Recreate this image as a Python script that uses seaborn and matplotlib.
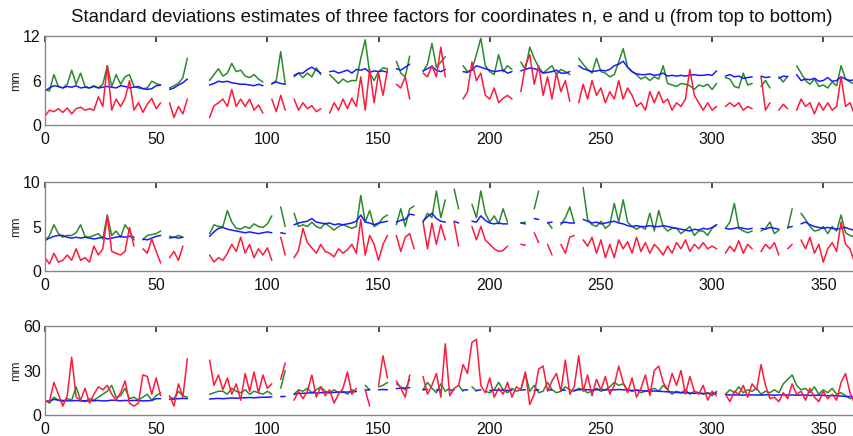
import numpy as np
import pandas as pd
import matplotlib
matplotlib.use("Agg")
import matplotlib.pyplot as plt
import seaborn as sns

N = None
day = list(range(0, 366, 2))

# ---------- n component ----------
n_blue = [4.6, 5.0, 5.3, 5.2, 5.0, 5.2, 5.1, 5.3, 5.0, 5.1,
          5.0, 5.2, 5.0, 5.1, 5.2, 5.1, 5.0, 5.3, 5.2, 5.0,
          5.1, 5.2, 4.9, 4.8, 4.9, 5.3, 5.4, N, 4.8, 5.0,
          5.4, 5.7, 6.2, N, N, N, N, 5.4, 5.6, 5.9,
          5.8, 5.9, 5.7, 5.6, 5.5, 5.5, 5.4, 5.3, 5.5, 5.3,
          N, 5.6, 5.8, 5.6, 5.5, N, 6.7, 7.0, 7.0, 7.5,
          7.8, 7.4, 7.0, N, 7.2, 7.3, 7.0, 7.2, 7.4, 7.0,
          7.5, 7.4, 7.6, 7.1, 7.3, 7.2, 7.3, 7.1, N, 7.6,
          7.4, 7.8, 8.2, N, N, 7.3, 7.6, 7.9, 7.4, 7.2,
          7.5, N, N, N, 7.2, 7.1, 7.4, 8.0, 7.8, 7.6,
          7.4, 7.2, 7.3, 7.4, 7.0, 7.2, N, 7.3, 7.5, 7.7,
          7.6, 7.4, 7.0, 7.1, 7.2, 7.4, 7.0, 7.0, 7.2, N,
          8.0, 7.6, 7.4, 7.2, 7.3, 7.4, 7.3, 7.5, 8.0, 8.2,
          8.6, 7.8, 7.2, 6.9, 6.8, 6.8, 6.9, 6.7, 6.8, 7.0,
          6.6, 6.7, 6.6, 6.7, 6.6, 6.7, 6.8, 6.7, 6.7, 6.8,
          6.7, 7.3, N, 6.6, 6.8, 6.5, 6.6, 6.3, 6.4, 6.5,
          N, 6.6, 6.4, 6.5, N, 6.3, 6.6, 6.5, N, 6.8,
          6.0, 6.2, 6.1, 6.3, 5.9, 6.0, 6.4, 5.9, 6.0, 6.5,
          6.2, 6.0, 6.1]
n_green = [4.8, 4.6, 6.8, 5.2, 5.0, 5.5, 7.4, 5.5, 7.0, 5.2,
           5.0, 5.3, 5.0, 5.5, 8.0, 5.2, 6.8, 5.5, 6.5, 6.8,
           5.2, 5.0, 4.9, 5.0, 5.9, 5.6, 5.4, N, 5.0, 5.3,
           5.6, 6.4, 9.0, N, N, N, N, 6.0, 6.8, 7.6,
           6.6, 7.0, 8.3, 7.2, 7.4, 6.6, 6.4, 6.8, 6.2, 5.8,
           N, 5.5, 6.0, 9.9, 5.6, N, 6.5, 7.0, 6.4, 7.0,
           6.5, 7.7, 6.8, N, 6.8, 6.2, 5.6, 6.2, 5.8, 6.0,
           6.0, 9.0, 11.5, 7.0, 6.0, 7.2, 7.7, 7.6, N, 8.6,
           7.0, 6.5, 9.3, N, N, 7.2, 8.2, 11.0, 7.8, 8.5,
           9.2, N, N, N, 8.0, 7.2, 7.5, 9.5, 11.7, 8.0,
           7.2, 6.8, 9.5, 7.2, 8.0, 7.5, N, 8.5, 7.5, 10.5,
           9.0, 7.8, 7.0, 7.5, 8.0, 6.8, 7.5, 7.2, 6.8, N,
           9.0, 8.2, 7.5, 7.0, 9.0, 7.2, 7.0, 6.5, 6.8, 8.5,
           10.3, 7.8, 7.2, 6.8, 6.2, 6.5, 6.0, 6.5, 6.2, 8.0,
           5.6, 5.4, 5.2, 5.6, 5.5, 5.3, 4.8, 5.4, 5.2, 5.5,
           4.8, 5.6, N, 6.4, 6.2, 5.2, 5.0, 7.0, 5.4, 5.6,
           N, 5.2, 6.0, 5.0, N, 6.5, 5.8, 6.6, N, 8.0,
           7.0, 6.0, 5.5, 6.2, 5.2, 5.4, 5.0, 5.8, 5.3, 8.0,
           6.2, 5.8, 5.5]
n_red = [1.2, 2.0, 1.8, 2.2, 1.7, 2.3, 1.5, 2.2, 2.4, 2.0,
         2.2, 2.0, 3.8, 2.5, 8.0, 2.0, 3.5, 2.5, 3.6, 6.0,
         2.0, 3.0, 1.7, 2.8, 3.6, 2.2, 3.0, N, 3.0, 1.0,
         2.5, 1.5, 3.5, N, N, N, N, 1.0, 2.6, 3.0,
         3.5, 2.5, 4.8, 2.5, 3.5, 2.5, 3.5, 2.0, 2.7, 1.6,
         N, 3.5, 1.8, 4.0, 2.0, N, 3.5, 2.0, 3.0, 2.2,
         2.6, 1.8, 2.2, N, 1.6, 3.0, 2.0, 3.5, 2.2, 3.6,
         2.5, 6.5, 2.0, 7.5, 3.0, 7.0, 4.0, 7.5, N, 5.5,
         5.0, 6.5, 3.5, N, N, 7.0, 6.5, 8.0, 6.5, 10.5,
         6.5, N, N, N, 3.5, 4.5, 8.5, 6.0, 7.0, 4.0,
         3.5, 5.0, 3.0, 3.6, 4.0, 3.5, N, 4.5, 8.0, 9.5,
         5.5, 8.0, 4.0, 6.5, 3.5, 7.0, 4.5, 6.0, 3.2, N,
         3.0, 5.5, 3.5, 6.0, 4.0, 5.0, 3.0, 4.5, 3.5, 6.0,
         3.5, 5.0, 4.0, 2.5, 3.0, 2.0, 4.5, 3.0, 4.5, 3.0,
         3.5, 2.0, 3.0, 2.5, 3.5, 7.5, 4.0, 3.0, 2.0, 3.0,
         2.0, 2.5, N, 2.5, 3.0, 2.5, 3.0, 2.0, 2.5, 2.2,
         N, 6.5, 2.0, 3.0, N, 2.0, 2.8, 2.2, N, 2.0,
         3.5, 2.5, 3.0, 1.5, 3.0, 2.0, 3.0, 2.0, 2.5, 6.5,
         2.5, 3.0, 1.5]

# ---------- e component ----------
e_blue = [3.5, 3.7, 3.9, 4.0, 4.0, 3.8, 3.7, 3.8, 3.7, 3.8,
          3.7, 3.6, 3.7, 3.8, 3.6, 3.7, 3.8, 3.9, 3.8, 3.9,
          3.8, N, 3.6, 3.5, 3.7, 3.9, 4.0, N, 3.7, 3.8,
          3.7, 3.8, N, N, N, N, N, 3.9, 4.4, 4.8,
          4.9, 4.7, 4.6, 4.5, 4.4, 4.3, 4.4, 4.3, 4.2, 4.3,
          4.4, 4.3, N, 4.3, 4.2, N, 5.2, 5.4, 5.5, 5.6,
          5.9, 5.5, 5.4, 5.3, 5.4, 5.2, 5.3, 5.2, 5.3, 5.4,
          5.6, 6.3, 5.5, 5.4, 5.2, 5.4, 5.5, 5.6, N, 5.5,
          5.7, 5.8, 6.4, 6.3, N, 5.6, 6.1, 6.5, 5.9, 5.6,
          5.5, N, 5.6, 5.4, N, N, 5.6, 5.5, 6.2, 5.7,
          5.4, 5.3, 5.4, 5.3, 5.3, N, N, 5.4, 5.3, N,
          5.9, 5.8, N, 5.4, 5.5, N, 5.4, 5.5, 5.4, 5.4,
          N, 5.8, 5.6, 5.4, 5.5, 5.3, 5.4, 5.5, 5.6, 5.4,
          5.3, 5.1, 5.0, 5.1, 5.0, 5.0, 5.1, 5.0, 5.0, 5.1,
          5.0, 4.9, 4.8, 4.7, 4.6, 4.5, 4.7, 4.6, 4.8, 4.7,
          4.9, 5.2, N, 4.8, 4.7, 4.8, 4.9, 4.8, 4.7, 4.8,
          N, 4.8, 4.7, 4.9, 4.8, 4.7, N, 4.9, 5.0, N,
          5.3, 5.5, 5.2, 5.0, 4.9, 4.8, 4.9, 4.8, 4.7, 4.8,
          4.9, 4.7, 4.6]
e_green = [3.3, 4.0, 5.2, 4.2, 3.8, 4.0, 4.0, 4.3, 5.2, 3.9,
           3.8, 4.0, 4.2, 3.6, 6.3, 4.0, 4.5, 3.8, 5.2, 4.5,
           3.5, N, 3.5, 4.0, 4.1, 4.2, 4.5, N, 3.9, 3.8,
           4.0, 3.8, N, N, N, N, N, 4.2, 5.2, 5.0,
           5.0, 6.8, 5.5, 4.8, 4.7, 5.0, 4.8, 5.3, 5.0, 4.9,
           5.3, 6.2, N, 7.2, 5.0, N, 6.5, 5.0, 5.2, 5.0,
           5.5, 5.0, 4.8, 5.4, 5.0, 4.6, 5.0, 5.2, 5.0, 4.8,
           5.0, 8.5, 5.5, 6.8, 5.0, 5.3, 6.0, 6.3, N, 5.2,
           7.0, 5.0, 7.0, 7.3, N, 5.5, 6.5, 6.0, 9.0, 6.0,
           8.0, N, 9.2, 7.0, N, N, 7.5, 6.0, 9.0, 6.5,
           5.5, 6.2, 5.3, 7.0, 5.5, N, N, 5.4, 5.5, N,
           7.0, 9.0, N, 5.5, 4.8, N, 5.2, 6.0, 7.2, 5.4,
           N, 9.4, 5.8, 5.2, 5.0, 5.6, 4.8, 5.2, 7.6, 5.5,
           8.0, 5.5, 5.0, 4.7, 5.0, 4.7, 6.5, 4.5, 6.8, 5.0,
           4.5, 4.8, 4.8, 4.2, 4.6, 5.0, 4.0, 4.5, 4.5, 4.0,
           4.8, 5.2, N, 4.8, 5.5, 7.6, 4.8, 4.5, 4.3, 4.5,
           N, 4.5, 4.8, 5.5, 4.2, 4.6, N, 4.8, 7.0, N,
           6.5, 5.8, 5.0, 4.5, 4.6, 5.0, 4.2, 5.0, 4.5, 6.3,
           4.3, 4.0, 3.8]
e_red = [1.5, 0.8, 2.0, 1.0, 1.2, 1.8, 1.2, 2.5, 1.2, 1.5,
         1.0, 2.8, 1.8, 2.5, 6.2, 2.2, 2.0, 1.8, 2.2, 4.9,
         2.8, N, 2.5, 2.0, 3.6, 2.2, 0.9, N, 1.5, 2.2,
         1.2, 2.8, N, N, N, N, N, 1.8, 1.0, 1.5,
         1.2, 2.0, 3.0, 2.2, 3.8, 2.0, 3.0, 1.5, 2.5, 1.8,
         2.6, 1.2, N, 3.8, 1.8, N, 1.5, 2.3, 4.8, 3.2,
         2.6, 2.0, 3.0, 2.2, 2.0, 1.6, 2.5, 2.0, 2.4, 3.0,
         2.0, 5.8, 1.8, 4.0, 3.0, 1.2, 3.0, 4.0, N, 4.0,
         2.2, 3.8, 4.2, 2.5, N, 5.5, 2.5, 5.4, 3.0, 5.2,
         3.5, N, 5.5, 2.8, N, N, 5.0, 3.5, 5.0, 3.5,
         3.0, 2.5, 2.2, 2.3, 2.8, N, N, 3.0, 2.9, N,
         4.3, 3.2, N, 3.0, 1.8, N, 3.0, 2.0, 3.8, 4.0,
         N, 3.5, 2.8, 3.8, 2.0, 3.5, 1.5, 3.0, 1.5, 3.5,
         2.5, 3.3, 2.0, 3.8, 2.2, 3.2, 2.0, 3.0, 2.5, 1.8,
         2.8, 2.0, 3.2, 2.5, 3.5, 2.2, 3.0, 2.5, 3.2, 2.5,
         2.8, 2.5, N, 2.0, 2.8, 2.2, 3.4, 2.0, 3.0, 2.5,
         N, 2.2, 3.0, 2.5, 3.2, 1.8, N, 2.5, 3.0, N,
         3.5, 2.5, 3.8, 2.0, 3.0, 1.0, 2.5, 3.2, 2.2, 5.5,
         3.0, 2.5, 1.0]

# ---------- u component ----------
u_blue = [9.0, 9.5, 10.5, 10.0, 9.8, 9.5, 9.6, 9.8, 9.5, 9.6,
          9.5, 9.6, 9.8, 9.5, 9.6, 10.0, 9.8, 9.6, 9.8, 9.7,
          9.8, 9.7, 9.5, 9.6, 9.8, 11.0, 11.0, N, 10.5, 10.8,
          11.0, 11.2, 11.0, N, N, N, N, 10.8, 11.0, 11.2,
          11.0, 11.2, 11.5, 11.3, 11.5, 11.6, 11.8, 11.6, 11.8, 12.0,
          12.0, 12.2, N, 12.4, 12.5, N, 14.0, 14.5, 14.6, 14.8,
          15.0, 14.8, 15.0, 15.2, 15.0, 15.2, 15.5, 15.3, 15.5, 15.6,
          15.8, N, 16.8, 17.0, N, 17.0, 17.2, 17.0, N, 17.8,
          18.0, 18.2, 18.5, N, N, 17.0, 17.2, N, 16.8, 17.0,
          N, 16.6, 17.0, N, 16.8, 17.0, N, 16.6, 17.0, N,
          16.5, 16.8, 16.6, 16.8, 16.5, 16.7, N, 16.8, 17.0, N,
          16.5, 17.0, N, 16.7, 17.0, N, 16.6, 16.8, N, 16.6,
          17.0, 17.2, 17.0, 16.8, 17.0, 17.2, 17.0, 16.8, 17.0, 17.2,
          17.0, 16.8, 16.5, 16.8, 16.5, 16.2, 16.0, 16.2, 16.0, 15.8,
          15.6, 15.5, 15.2, 15.0, 15.0, 14.8, 14.6, 14.8, 14.5, 14.6,
          14.5, 14.8, N, 13.8, 13.5, 13.6, 13.5, 13.4, 13.5, 13.6,
          13.5, 13.4, 13.6, 13.5, 13.4, 13.5, 13.6, 13.4, 13.5, 13.3,
          13.5, 13.4, 13.2, 13.3, 13.4, 13.2, 13.0, 13.1, 13.0, 12.8,
          12.5, 12.4, 12.3]
u_green = [10, 8, 12, 10, 9, 11, 10, 19, 10, 9,
           11, 10, 12, 14, 16, 20, 12, 13, 18, 11,
           12, 10, 12, 14, 10, 13, 15, N, 12, 11,
           16, 13, 12, N, N, N, N, 14, 15, 16,
           16, 14, 18, 16, 15, 17, 14, 16, 15, 14,
           16, 14, N, 18, 30, N, 14, 17, 16, 18,
           15, 17, 19, 16, 15, 17, 15, 16, 14, 17,
           16, N, 20, 17, N, 19, 20, 22, N, 21,
           19, 17, 24, N, N, 17, 22, 18, 15, 21,
           16, 18, N, 20, 16, N, 19, 16, N, 16,
           15, 17, 22, 17, 15, 18, 16, 17, 28, 16,
           20, 15, 16, 22, 17, 15, 16, 19, 17, 16,
           18, 17, 15, 16, 18, 16, 17, 19, 22, 20,
           21, 17, 16, 17, 15, 16, 17, 18, 16, 20,
           17, 14, 16, 15, 17, 14, 16, 15, 14, 15,
           13, 16, N, 14, 17, 15, 19, 15, 17, 16,
           18, 14, 16, 15, 17, 15, 21, 24, 27, 20,
           17, 18, 15, 19, 14, 17, 15, 18, 14, 15,
           13, 11, 12]
u_red = [10, 9, 22, 14, 6, 13, 39, 12, 10, 18,
         8, 14, 19, 17, 20, 14, 10, 15, 23, 8,
         6, 8, 27, 26, 14, 25, 13, N, 13, 6,
         21, 12, 38, N, N, N, N, 37, 20, 27,
         17, 25, 14, 21, 10, 28, 16, 29, 15, 27,
         18, 21, N, 24, 35, N, 10, 16, 11, 16,
         27, 12, 19, 13, 17, 8, 14, 18, 29, 14,
         18, N, 17, 6, N, 20, 40, 25, N, 23,
         18, 12, 27, N, N, 26, 14, 20, 28, 12,
         48, 13, 18, 20, 34, 28, 49, 51, 20, 15,
         25, 12, 18, 14, 22, 12, 19, 17, 29, 7,
         14, 31, 33, 16, 23, 28, 16, 37, 14, 19,
         40, 16, 27, 13, 24, 17, 26, 14, 20, 33,
         22, 15, 25, 12, 18, 27, 13, 30, 33, 22,
         17, 28, 20, 30, 14, 26, 16, 14, 20, 10,
         16, 13, N, 14, 9, 16, 14, 20, 12, 21,
         17, 34, 20, 11, 12, 9, 15, 11, 21, 14,
         16, 10, 18, 12, 9, 16, 11, 14, 10, 22,
         28, 15, 8]

title = "Standard deviations estimates of three factors for coordinates n, e and u (from top to bottom)"
ylims = [(0, 12), (0, 10), (0, 60)]
yticks = [[0, 6, 12], [0, 5, 10], [0, 30, 60]]
xticks = [0, 50, 100, 150, 200, 250, 300, 350]

sns.set_theme(style="white")
plt.rcParams['font.family'] = ['Liberation Sans', 'DejaVu Sans']

fig = plt.figure(figsize=(8.54, 4.36), dpi=100)
colors = {'green': '#2a8a2a', 'blue': '#1a1aff', 'red': '#ff1a3c'}
panels = [(n_green, n_blue, n_red), (e_green, e_blue, e_red), (u_green, u_blue, u_red)]
bottoms = [0.7133, 0.3784, 0.0482]

for i, (g, b, r) in enumerate(panels):
    ax = fig.add_axes([0.0527, bottoms[i], 0.953, 0.204])
    for name, vals in (('green', g), ('blue', b), ('red', r)):
        y = np.array(vals, dtype=float)
        seg = np.cumsum(np.isnan(y))
        df = pd.DataFrame({'day': day, 'mm': y, 'seg': seg}).dropna()
        sns.lineplot(data=df, x='day', y='mm', units='seg', estimator=None,
                     color=colors[name], lw=1.1, ax=ax, legend=False)
    ax.set_xlim(0, 366)
    ax.set_ylim(*ylims[i])
    ax.set_xticks(xticks)
    ax.set_yticks(yticks[i])
    ax.set_xlabel('')
    ax.set_ylabel('mm', fontsize=9)
    ax.yaxis.set_label_coords(-0.028, 0.5)
    ax.tick_params(direction='in', length=4, top=True, right=True,
                   labelsize=11.5, colors='#333333', labelcolor='#111111')
    ax.tick_params(axis='x', pad=5)
    ax.tick_params(axis='y', pad=3)
    for s in ax.spines.values():
        s.set_color('#888888')
        s.set_linewidth(1.0)

fig.text(452 / 854, 1 - 17 / 436, title, ha='center', va='center', fontsize=13.4, color='#111111')
fig.savefig('out.png', dpi=100)
